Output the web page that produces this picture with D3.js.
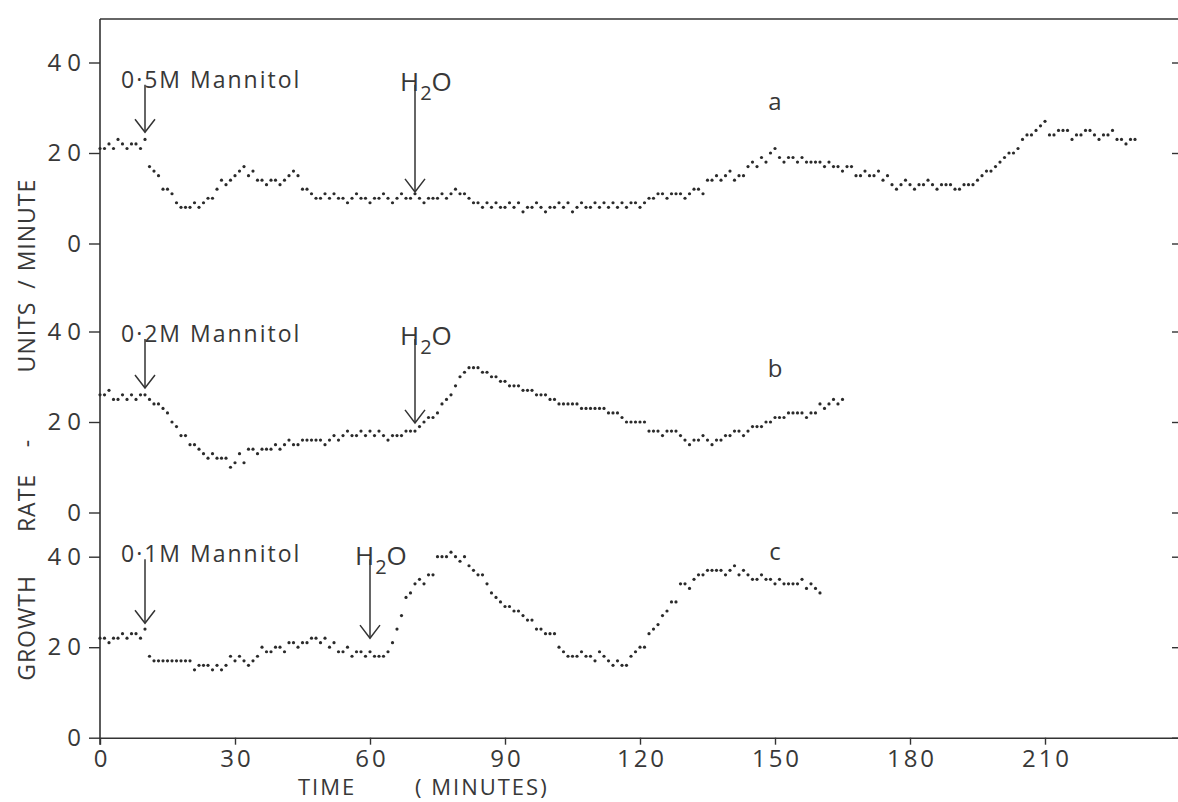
<!DOCTYPE html>
<html>
<head>
<meta charset="utf-8">
<script src="https://cdn.jsdelivr.net/npm/d3@7"></script>
<style>
  body { margin: 0; background: #fff; }
  svg { display: block; }
  text { font-family: "Open Sans", "Liberation Sans", sans-serif; fill: #383838; }
</style>
</head>
<body>
<div id="chart"></div>
<script>
// growth rate (units / minute), one reading per minute starting at t = 0
const rateA = [
  21,21,22,21,23,22,21,22,22,21,23,
  17,16,15,12,12,11,
  9,8,8,8,9,8,
  9,10,10,12,
  14,13,14,
  15,16,17,
  15,16,
  14,14,13,14,14,13,14,
  15,16,15,
  12,12,11,
  10,10,11,10,
  11,10,10,9,10,11,10,10,9,10,10,11,10,9,10,11,10,10,
  11,
  10,9,10,10,10,11,10,11,12,11,
  11,10,9,9,8,9,8,9,8,8,9,8,9,7,8,8,9,8,7,8,8,9,8,9,7,8,9,8,8,9,8,
  9,8,9,8,9,8,9,9,8,9,10,
  10,11,11,10,11,11,11,10,11,12,12,11,
  14,14,15,14,15,16,14,15,15,
  17,18,17,19,18,20,21,
  19,18,19,19,18,19,18,18,18,18,17,18,
  17,17,16,17,17,
  15,15,16,15,15,16,14,15,
  13,12,13,14,13,12,13,13,14,13,12,13,13,13,12,12,13,13,13,
  14,15,16,16,17,18,
  19,20,20,21,
  23,24,24,25,26,27,
  24,24,25,25,25,23,24,24,25,25,24,23,24,24,25,23,23,22,23,23
];
const rateB = [
  26,26,27,25,25,26,25,26,25,26,26,
  25,24,24,23,22,
  20,19,17,
  17,15,15,14,
  13,12,13,
  12,12,12,10,
  11,13,11,14,
  14,13,14,14,14,15,14,
  15,16,15,15,16,
  16,16,16,16,15,16,
  17,16,17,18,17,17,18,17,18,17,18,17,16,17,17,17,18,
  18,18,19,
  20,21,21,22,
  24,25,26,28,30,
  31,32,32,32,31,
  31,30,30,29,29,
  28,28,28,27,27,27,26,26,
  26,25,25,24,24,24,24,24,23,23,23,23,23,
  23,22,22,22,21,
  20,20,20,20,20,
  18,18,18,17,18,18,18,17,
  16,15,16,
  16,17,16,15,16,16,17,17,
  18,18,17,18,19,19,19,
  20,20,21,21,21,22,22,
  22,22,21,22,22,
  24,23,24,25,24,25
];
const rateC = [
  22,22,21,22,22,23,22,23,23,22,24,
  18,17,17,17,17,17,17,17,17,17,
  15,16,16,16,15,16,15,
  16,18,17,18,17,16,17,18,
  20,19,19,20,20,19,
  21,21,20,21,21,22,22,21,22,
  20,21,19,19,20,18,19,19,18,19,18,18,18,19,
  21,24,27,
  31,32,34,35,
  34,36,36,
  40,40,40,41,
  40,39,40,38,
  37,36,36,34,
  32,31,30,29,29,
  28,28,27,26,
  26,24,24,23,23,23,
  20,19,18,18,18,19,18,18,17,19,
  18,17,16,17,16,16,
  18,19,20,20,
  23,24,25,27,28,30,30,
  34,34,33,
  35,36,36,37,37,
  37,37,36,37,38,36,37,36,
  35,35,36,35,35,34,35,
  34,34,34,34,35,33,34,33,32
];

const panelNames = ["a", "b", "c"];
const mannitolLabels = ["0·5M Mannitol", "0·2M Mannitol", "0·1M Mannitol"];
const mannitolTime = [10, 10, 10];
const waterTime = [70, 70, 60];
const xTicks = [0, 30, 60, 90, 120, 150, 180, 210];
const yTicks = [0, 20, 40];

(function () {
  const width = 1178, height = 802;
  const plotLeft = 100, plotRight = 1180, plotTop = 19, plotBottom = 737.7;
  const zeroY = [243.5, 512.5, 737.7]; // baseline of each stacked panel
  const unitPx = 4.525;
  const ink = "#333";

  const svg = d3.select("#chart").append("svg")
    .attr("width", width).attr("height", height);

  const x = d3.scaleLinear().domain([0, 240]).range([plotLeft, plotRight]);
  const ys = zeroY.map(z => d3.scaleLinear().domain([0, 40]).range([z, z - 40 * unitPx]));

  // frame: top line and left line
  svg.append("line").attr("x1", plotLeft).attr("x2", plotRight).attr("y1", plotTop).attr("y2", plotTop)
    .attr("stroke", ink).attr("stroke-width", 1.6);
  svg.append("line").attr("x1", plotLeft).attr("x2", plotLeft).attr("y1", plotTop).attr("y2", plotBottom + 7)
    .attr("stroke", ink).attr("stroke-width", 1.6);

  // x axis
  const xAxis = svg.append("g")
    .attr("transform", `translate(0,${plotBottom})`)
    .call(d3.axisBottom(x).tickValues(xTicks).tickSize(7).tickSizeOuter(0).tickPadding(5));
  xAxis.select(".domain").attr("stroke", ink).attr("stroke-width", 1.6);
  xAxis.selectAll(".tick line").attr("stroke", ink).attr("stroke-width", 1.4);
  xAxis.selectAll(".tick text")
    .attr("font-size", 24).attr("fill", "#383838")
    .attr("letter-spacing", 3).attr("dx", 1.5)
    .style("font-family", "'Open Sans', sans-serif");

  // y axes (left labelled ticks, right bare ticks) for each panel
  ys.forEach(y => {
    const g = svg.append("g").attr("transform", `translate(${plotLeft},0)`)
      .call(d3.axisLeft(y).tickValues(yTicks).tickSize(11).tickPadding(2).tickFormat(d3.format("d")));
    g.select(".domain").remove();
    g.selectAll(".tick line").attr("stroke", ink).attr("stroke-width", 1.4);
    g.selectAll(".tick text")
      .attr("font-size", 24).attr("fill", "#383838")
      .attr("letter-spacing", 6)
      .style("font-family", "'Open Sans', sans-serif");

    const gr = svg.append("g").attr("transform", `translate(${plotRight},0)`)
      .call(d3.axisLeft(y).tickValues(yTicks).tickSize(8).tickFormat(""));
    gr.select(".domain").remove();
    gr.selectAll(".tick line").attr("stroke", ink).attr("stroke-width", 1.4);
  });

  // dots
  [rateA, rateB, rateC].forEach((series, i) => {
    svg.append("g")
      .selectAll("circle")
      .data(series)
      .join("circle")
      .attr("cx", (d, t) => x(t))
      .attr("cy", d => ys[i](d))
      .attr("r", 1.6)
      .attr("fill", "#2a2a2a");
  });

  // arrows + labels (vertical places given in panel units)
  const labelBase = [34.4, 37.7, 38.8];
  const arrowTips = [[24.6, 11.4], [27.5, 19.8], [25.3, 22]];
  const letterAt = [29.5, 30, 39.3];

  function arrow(px, y1, y2) {
    const g = svg.append("g").attr("stroke", ink).attr("stroke-width", 1.5).attr("fill", "none");
    g.append("line").attr("x1", px).attr("x2", px).attr("y1", y1).attr("y2", y2);
    g.append("path").attr("d", `M${px - 10},${y2 - 13}L${px},${y2}L${px + 10},${y2 - 13}`);
  }

  ys.forEach((y, i) => {
    const base = y(labelBase[i]);
    const mx = x(mannitolTime[i]);
    arrow(mx, base - 3, y(arrowTips[i][0]));
    svg.append("text")
      .attr("x", mx - 24).attr("y", base)
      .attr("font-size", 23).attr("letter-spacing", 2)
      .text(mannitolLabels[i]);

    const wx = x(waterTime[i]);
    arrow(wx, base - 3, y(arrowTips[i][1]));
    const h = svg.append("text")
      .attr("x", wx - 15).attr("y", base + 3)
      .attr("font-size", 26);
    h.append("tspan").text("H");
    h.append("tspan").attr("dy", 9).attr("dx", 1).attr("font-size", 20).text("2");
    h.append("tspan").attr("dy", -9).text("O");

    svg.append("text")
      .attr("x", x(150)).attr("y", y(letterAt[i]))
      .attr("text-anchor", "middle")
      .attr("font-size", 24)
      .text(panelNames[i]);
  });

  // axis titles
  svg.append("text").attr("x", 298).attr("y", 795).attr("font-size", 22)
    .attr("letter-spacing", 2).text("TIME");
  svg.append("text").attr("x", 415).attr("y", 795).attr("font-size", 22)
    .attr("letter-spacing", 2).text("( MINUTES)");

  const yTitle = [["GROWTH", 628], ["RATE", 503], ["-", 443], ["UNITS", 337], ["/", 284], ["MINUTE", 225]];
  yTitle.forEach(([word, cy]) => {
    svg.append("text")
      .attr("transform", `translate(35,${cy}) rotate(-90)`)
      .attr("text-anchor", "middle")
      .attr("font-size", 23)
      .attr("letter-spacing", 1)
      .text(word);
  });
})();
</script>
</body>
</html>
